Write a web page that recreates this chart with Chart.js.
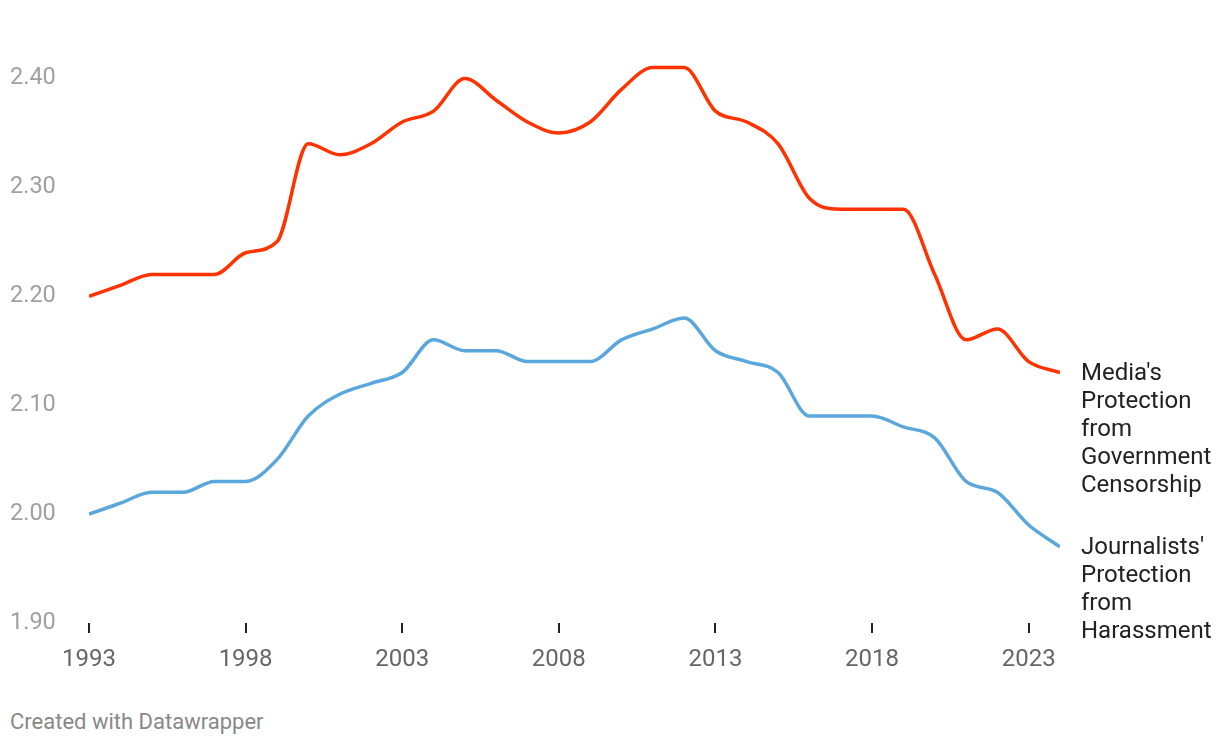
<!DOCTYPE html>
<html>
<head>
<meta charset="utf-8">
<script src="https://cdn.jsdelivr.net/npm/chart.js@4"></script>
<style>
  html, body { margin: 0; padding: 0; background: #fff; }
  #wrap { position: relative; width: 1220px; height: 700px; }
  #credit { position: absolute; left: 10px; top: 709px; font: 22px Roboto, sans-serif; color: #888; }
</style>
</head>
<body>
<div id="wrap"><canvas id="chart" width="1220" height="700"></canvas></div>
<div id="credit">Created with Datawrapper</div>
<script>
// data
const years = [1993, 1994, 1995, 1996, 1997, 1998, 1999, 2000, 2001, 2002, 2003, 2004, 2005, 2006, 2007, 2008,
               2009, 2010, 2011, 2012, 2013, 2014, 2015, 2016, 2017, 2018, 2019, 2020, 2021, 2022, 2023, 2024];
const mediaCensorship = [2.20, 2.21, 2.22, 2.22, 2.22, 2.24, 2.25, 2.34, 2.33, 2.34, 2.36, 2.37, 2.40, 2.38, 2.36, 2.35,
                         2.36, 2.39, 2.41, 2.41, 2.37, 2.36, 2.34, 2.29, 2.28, 2.28, 2.28, 2.22, 2.16, 2.17, 2.14, 2.13];
const journalistHarassment = [2.00, 2.01, 2.02, 2.02, 2.03, 2.03, 2.05, 2.09, 2.11, 2.12, 2.13, 2.16, 2.15, 2.15, 2.14, 2.14,
                              2.14, 2.16, 2.17, 2.18, 2.15, 2.14, 2.13, 2.09, 2.09, 2.09, 2.08, 2.07, 2.03, 2.02, 1.99, 1.97];
const xTicks = [1993, 1998, 2003, 2008, 2013, 2018, 2023];
const yTicks = [1.90, 2.00, 2.10, 2.20, 2.30, 2.40];
const seriesLabels = [
  ["Media's", "Protection", "from", "Government", "Censorship"],
  ["Journalists'", "Protection", "from", "Harassment"]
];

const toPoints = vals => vals.map((v, i) => ({ x: years[i], y: v }));

// labels drawn at the end of each line
const endLabels = {
  id: 'endLabels',
  afterDatasetsDraw(chart) {
    const ctx = chart.ctx;
    chart.data.datasets.forEach((ds, i) => {
      const meta = chart.getDatasetMeta(i);
      const last = meta.data[meta.data.length - 1];
      ctx.save();
      ctx.font = '24px Roboto';
      ctx.fillStyle = '#222';
      ctx.textBaseline = 'middle';
      seriesLabels[i].forEach((line, j) => ctx.fillText(line, last.x + 21, last.y + 1 + j * 28));
      ctx.restore();
    });
  }
};

new Chart(document.getElementById('chart'), {
  type: 'line',
  data: {
    datasets: [
      { data: toPoints(mediaCensorship), borderColor: '#ff3300', borderWidth: 3.5 },
      { data: toPoints(journalistHarassment), borderColor: '#5aa7de', borderWidth: 3.5 }
    ]
  },
  options: {
    responsive: false,
    animation: false,
    devicePixelRatio: 1,
    layout: { padding: { left: 10, right: 160, top: 24, bottom: 0 } },
    elements: { point: { radius: 0 }, line: { cubicInterpolationMode: 'monotone' } },
    plugins: { legend: { display: false }, tooltip: { enabled: false } },
    scales: {
      x: {
        type: 'linear',
        min: 1993,
        max: 2024,
        afterBuildTicks: s => { s.ticks = xTicks.map(v => ({ value: v })); },
        afterFit: s => { s.height = 77; },
        border: { display: false },
        grid: { drawOnChartArea: false, drawTicks: true, tickLength: 10, color: '#222', lineWidth: 2 },
        ticks: { padding: 13, maxRotation: 0, color: '#666', font: { family: 'Roboto', size: 24 }, callback: v => String(v) }
      },
      y: {
        min: 1.90,
        max: 2.45,
        afterBuildTicks: s => { s.ticks = yTicks.map(v => ({ value: v })); },
        afterFit: s => { s.width = 79; },
        border: { display: false },
        grid: { display: false },
        ticks: { crossAlign: 'far', color: '#a0a0a0', font: { family: 'Roboto', size: 23.5 }, callback: v => v.toFixed(2) }
      }
    }
  },
  plugins: [endLabels]
});
</script>
</body>
</html>
